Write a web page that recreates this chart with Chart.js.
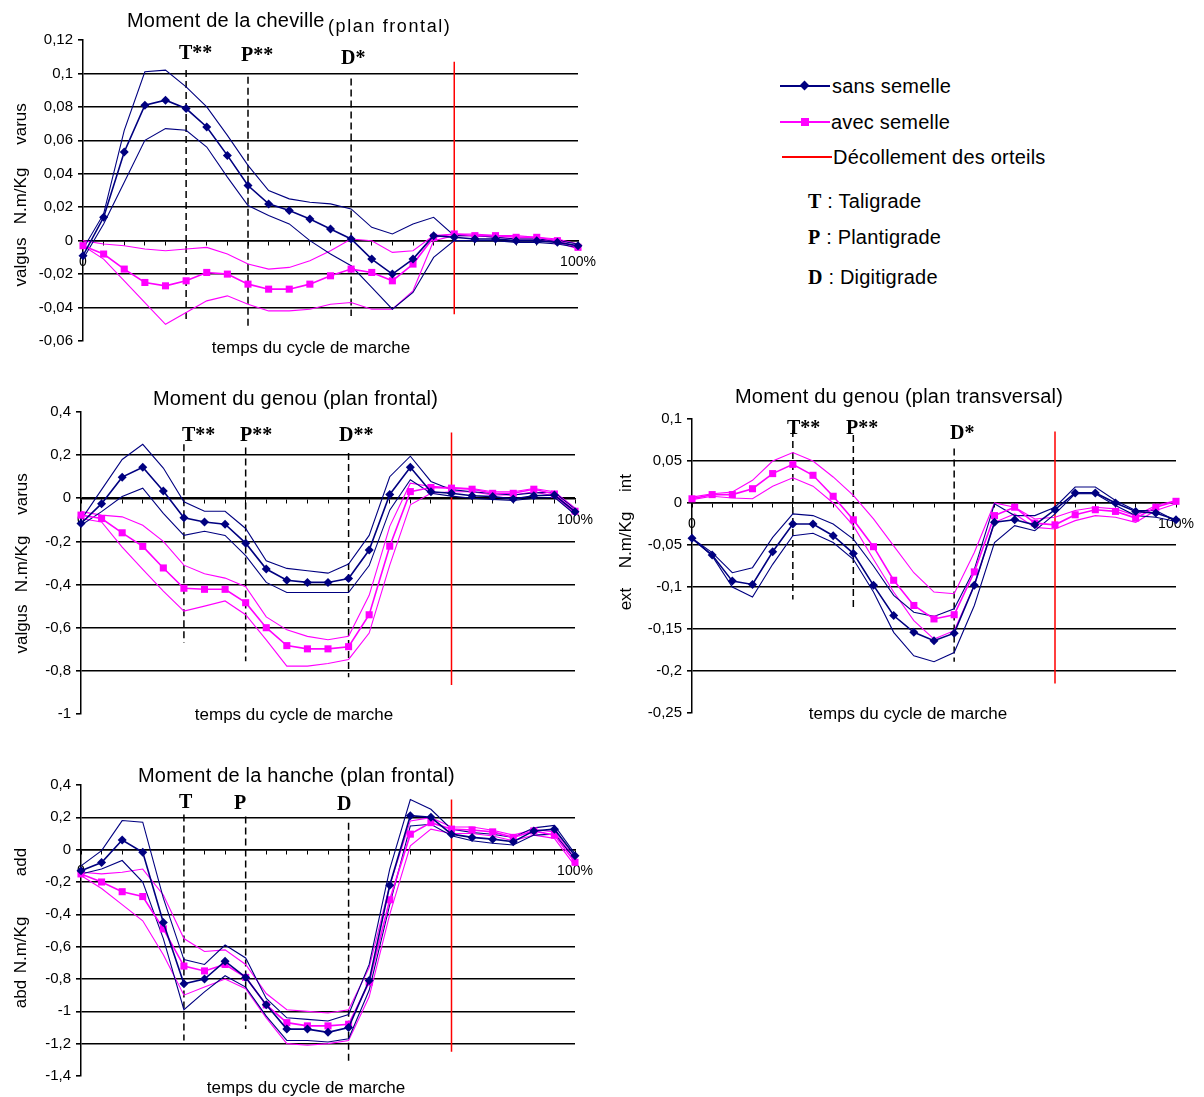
<!DOCTYPE html>
<html><head><meta charset="utf-8">
<script src="https://cdn.jsdelivr.net/npm/chart.js@4.4.1/dist/chart.umd.min.js"></script>
<style>
html,body{margin:0;padding:0;background:#fff;}
body{width:1204px;height:1097px;position:relative;overflow:hidden;font-family:"Liberation Sans",Arial,sans-serif;color:#000;}
canvas{position:absolute;}
.t{position:absolute;white-space:nowrap;line-height:1;transform:translateY(-50%);}
.c{transform:translate(-50%,-50%);}
.r{transform:translate(-50%,-50%) rotate(-90deg);}
.ev{font-family:"Liberation Serif","Times New Roman",serif;font-weight:bold;font-size:20px;}
.ttl{font-size:20px;letter-spacing:0.2px;}
.xt{font-size:17px;}
.yt{font-size:17px;}
.lg{font-size:20px;letter-spacing:0.2px;}
</style></head>
<body>
<canvas id="c1"></canvas>
<canvas id="c2"></canvas>
<canvas id="c3"></canvas>
<canvas id="c4"></canvas>

<!-- Panel 1 texts -->
<div class="t ttl" style="left:127px;top:20px;">Moment de la cheville</div>
<div class="t" style="left:328px;top:26px;font-size:18px;letter-spacing:1.6px;">(plan frontal)</div>
<div class="t ev" style="left:179px;top:52px;">T**</div>
<div class="t ev" style="left:241px;top:54px;">P**</div>
<div class="t ev" style="left:341px;top:57px;">D*</div>
<div class="t c xt" style="left:311px;top:347px;">temps du cycle de marche</div>
<div class="t r yt" style="left:20px;top:124px;">varus</div>
<div class="t r yt" style="left:20px;top:196px;">N.m/Kg</div>
<div class="t r yt" style="left:20px;top:262px;">valgus</div>

<!-- Panel 2 texts -->
<div class="t ttl" style="left:153px;top:398px;">Moment du genou (plan frontal)</div>
<div class="t ev" style="left:182px;top:434px;">T**</div>
<div class="t ev" style="left:240px;top:434px;">P**</div>
<div class="t ev" style="left:339px;top:434px;">D**</div>
<div class="t c xt" style="left:294px;top:714px;">temps du cycle de marche</div>
<div class="t r yt" style="left:21px;top:494px;">varus</div>
<div class="t r yt" style="left:21px;top:564px;">N.m/Kg</div>
<div class="t r yt" style="left:21px;top:629px;">valgus</div>

<!-- Panel 3 texts -->
<div class="t ttl" style="left:735px;top:396px;">Moment du genou (plan transversal)</div>
<div class="t ev" style="left:787px;top:427px;">T**</div>
<div class="t ev" style="left:846px;top:427px;">P**</div>
<div class="t ev" style="left:950px;top:432px;">D*</div>
<div class="t c xt" style="left:908px;top:713px;">temps du cycle de marche</div>
<div class="t r yt" style="left:625px;top:483px;">int</div>
<div class="t r yt" style="left:625px;top:540px;">N.m/Kg</div>
<div class="t r yt" style="left:625px;top:599px;">ext</div>

<!-- Panel 4 texts -->
<div class="t ttl" style="left:138px;top:775px;">Moment de la hanche (plan frontal)</div>
<div class="t ev" style="left:179px;top:801px;">T</div>
<div class="t ev" style="left:234px;top:802px;">P</div>
<div class="t ev" style="left:337px;top:803px;">D</div>
<div class="t c xt" style="left:306px;top:1087px;">temps du cycle de marche</div>
<div class="t r yt" style="left:20px;top:862px;">add</div>
<div class="t r yt" style="left:20px;top:945px;">N.m/Kg</div>
<div class="t r yt" style="left:20px;top:994px;">abd</div>

<!-- Legend -->
<div style="position:absolute;left:780px;top:85px;width:50px;height:2px;background:#000080;"></div>
<div style="position:absolute;left:801px;top:82px;width:7px;height:7px;background:#000080;transform:rotate(45deg);"></div>
<div class="t lg" style="left:832px;top:86px;">sans semelle</div>
<div style="position:absolute;left:780px;top:121px;width:50px;height:2px;background:#ff00ff;"></div>
<div style="position:absolute;left:801px;top:118px;width:8px;height:8px;background:#ff00ff;"></div>
<div class="t lg" style="left:831px;top:122px;">avec semelle</div>
<div style="position:absolute;left:782px;top:156px;width:50px;height:2px;background:#ff0000;"></div>
<div class="t lg" style="left:833px;top:157px;">Décollement des orteils</div>
<div class="t lg" style="left:808px;top:201px;"><span class="ev" style="font-size:20px;">T</span> : Taligrade</div>
<div class="t lg" style="left:808px;top:237px;"><span class="ev" style="font-size:20px;">P</span> : Plantigrade</div>
<div class="t lg" style="left:808px;top:277px;"><span class="ev" style="font-size:20px;">D</span> : Digitigrade</div>

<script>
// ---- categories: points of the gait cycle (0 .. 100%) ----
const cycleSteps = [0,1,2,3,4,5,6,7,8,9,10,11,12,13,14,15,16,17,18,19,20,21,22,23,24];
const cycleLabelFirst = '0';
const cycleLabelLast = '100%';

// ---- phase events (index on the cycle) ----
const phaseIndex = [5, 8, 13];   // T, P, D
const toeOffIndex = 18;          // décollement des orteils

// ---- Panel 1 : Moment de la cheville (plan frontal) ----
const ankleSansMean = [-0.009,0.014,0.053,0.081,0.084,0.079,0.068,0.051,0.033,0.022,0.018,0.013,0.007,0.001,-0.011,-0.02,-0.011,0.003,0.002,0.001,0.001,0.0,0.0,-0.001,-0.003];
const ankleSansUp   = [-0.005,0.016,0.066,0.101,0.102,0.092,0.08,0.063,0.045,0.03,0.025,0.023,0.022,0.019,0.008,0.004,0.01,0.014,0.003,0.003,0.002,0.001,0.001,0.0,-0.002];
const ankleSansLow  = [-0.011,0.01,0.035,0.06,0.067,0.066,0.056,0.038,0.021,0.015,0.01,0.0,-0.008,-0.015,-0.028,-0.041,-0.031,-0.01,0.0,0.0,0.0,-0.001,-0.001,-0.002,-0.004];
const ankleAvecMean = [-0.003,-0.008,-0.017,-0.025,-0.027,-0.024,-0.019,-0.02,-0.026,-0.029,-0.029,-0.026,-0.021,-0.017,-0.019,-0.024,-0.014,0.002,0.004,0.003,0.003,0.002,0.002,0.0,-0.004];
const ankleAvecUp   = [0.0,-0.002,-0.003,-0.005,-0.006,-0.005,-0.004,-0.008,-0.014,-0.017,-0.016,-0.012,-0.006,0.001,0.0,-0.007,-0.006,0.003,0.004,0.004,0.003,0.003,0.002,0.001,-0.002];
const ankleAvecLow  = [-0.003,-0.011,-0.024,-0.037,-0.05,-0.043,-0.036,-0.033,-0.038,-0.042,-0.042,-0.041,-0.038,-0.037,-0.041,-0.041,-0.03,0.0,0.003,0.003,0.002,0.001,0.001,-0.001,-0.005];
const ankleEventTop = [0.102, 0.098, 0.097];
const ankleEventBottom = [-0.049, -0.051, -0.045];
const ankleToeOff = [0.107, -0.044];
const ankleAxis = [-0.06, 0.12, 0.02];

// ---- Panel 2 : Moment du genou (plan frontal) ----
const kneeFSansMean = [-0.117,-0.025,0.098,0.144,0.034,-0.09,-0.11,-0.12,-0.208,-0.328,-0.38,-0.39,-0.39,-0.372,-0.24,0.018,0.144,0.03,0.023,0.012,0.008,-0.003,0.012,0.015,-0.062];
const kneeFSansUp   = [-0.1,0.04,0.18,0.25,0.14,-0.016,-0.06,-0.06,-0.14,-0.29,-0.325,-0.336,-0.347,-0.305,-0.172,0.1,0.195,0.078,0.04,0.03,0.022,0.015,0.025,0.028,-0.05];
const kneeFSansLow  = [-0.125,-0.062,0.008,0.047,-0.07,-0.172,-0.153,-0.172,-0.266,-0.39,-0.437,-0.437,-0.437,-0.437,-0.312,-0.055,0.086,0.023,0.01,0.0,-0.005,-0.01,0.0,0.005,-0.075];
const kneeFAvecMean = [-0.078,-0.094,-0.16,-0.223,-0.323,-0.417,-0.422,-0.422,-0.484,-0.6,-0.683,-0.698,-0.698,-0.688,-0.54,-0.222,0.031,0.05,0.047,0.042,0.023,0.023,0.042,0.02,-0.06];
const kneeFAvecUp   = [-0.062,-0.078,-0.086,-0.125,-0.2,-0.31,-0.35,-0.37,-0.41,-0.55,-0.61,-0.64,-0.656,-0.64,-0.45,-0.13,0.07,0.055,0.05,0.045,0.03,0.03,0.045,0.03,-0.045];
const kneeFAvecLow  = [-0.094,-0.11,-0.226,-0.33,-0.43,-0.523,-0.5,-0.476,-0.54,-0.656,-0.778,-0.778,-0.766,-0.747,-0.625,-0.31,-0.03,0.023,0.03,0.03,0.015,0.015,0.03,0.01,-0.07];
const kneeFEventTop = [0.25, 0.235, 0.21];
const kneeFEventBottom = [-0.67, -0.755, -0.83];
const kneeFToeOff = [0.305, -0.865];
const kneeFAxis = [-1, 0.4, 0.2];

// ---- Panel 3 : Moment du genou (plan transversal) ----
const kneeTSansMean = [-0.042,-0.062,-0.093,-0.097,-0.058,-0.025,-0.025,-0.039,-0.06,-0.098,-0.134,-0.154,-0.164,-0.155,-0.098,-0.023,-0.02,-0.026,-0.008,0.012,0.012,0.0,-0.01,-0.012,-0.02];
const kneeTSansUp   = [-0.042,-0.059,-0.083,-0.077,-0.041,-0.013,-0.015,-0.025,-0.043,-0.075,-0.11,-0.13,-0.135,-0.126,-0.079,-0.001,-0.015,-0.015,-0.005,0.019,0.019,0.003,-0.009,-0.009,-0.021];
const kneeTSansLow  = [-0.042,-0.063,-0.1,-0.112,-0.073,-0.039,-0.036,-0.047,-0.067,-0.106,-0.154,-0.182,-0.189,-0.178,-0.122,-0.047,-0.027,-0.033,-0.013,0.011,0.011,-0.003,-0.015,-0.017,-0.022];
const kneeTAvecMean = [0.005,0.01,0.01,0.017,0.035,0.046,0.033,0.008,-0.02,-0.052,-0.092,-0.122,-0.138,-0.133,-0.082,-0.015,-0.005,-0.024,-0.026,-0.014,-0.008,-0.01,-0.018,-0.005,0.002];
const kneeTAvecUp   = [0.007,0.011,0.013,0.027,0.05,0.06,0.05,0.031,0.009,-0.019,-0.051,-0.083,-0.106,-0.108,-0.059,0.0,-0.005,-0.019,-0.017,-0.009,-0.005,-0.007,-0.015,-0.003,0.003];
const kneeTAvecLow  = [0.004,0.008,0.006,0.005,0.02,0.03,0.02,0.0,-0.027,-0.067,-0.106,-0.14,-0.162,-0.152,-0.098,-0.023,-0.013,-0.029,-0.031,-0.021,-0.015,-0.017,-0.023,-0.009,-0.001];
const kneeTEventTop = [0.087, 0.081, 0.065];
const kneeTEventBottom = [-0.115, -0.127, -0.189];
const kneeTToeOff = [0.085, -0.215];
const kneeTAxis = [-0.25, 0.1, 0.05];

// ---- Panel 4 : Moment de la hanche (plan frontal) ----
const hipSansMean = [-0.13,-0.08,0.06,-0.016,-0.45,-0.83,-0.8,-0.69,-0.79,-0.96,-1.11,-1.11,-1.13,-1.1,-0.81,-0.22,0.21,0.2,0.096,0.076,0.065,0.049,0.116,0.127,-0.037];
const hipSansUp   = [-0.1,-0.006,0.18,0.17,-0.3,-0.68,-0.71,-0.59,-0.67,-0.92,-1.04,-1.05,-1.06,-1.02,-0.71,-0.12,0.31,0.25,0.127,0.106,0.095,0.075,0.135,0.15,-0.025];
const hipSansLow  = [-0.15,-0.12,-0.067,-0.2,-0.55,-0.99,-0.88,-0.78,-0.85,-1.03,-1.18,-1.18,-1.19,-1.17,-0.87,-0.34,0.147,0.157,0.086,0.055,0.04,0.029,0.09,0.096,-0.057];
const hipAvecMean = [-0.15,-0.2,-0.26,-0.29,-0.49,-0.72,-0.75,-0.71,-0.79,-0.96,-1.07,-1.09,-1.09,-1.08,-0.82,-0.31,0.096,0.167,0.127,0.122,0.11,0.076,0.116,0.09,-0.078];
const hipAvecUp   = [-0.14,-0.15,-0.14,-0.12,-0.28,-0.55,-0.63,-0.62,-0.71,-0.89,-0.99,-1.0,-1.01,-0.99,-0.73,-0.22,0.178,0.198,0.14,0.14,0.12,0.09,0.125,0.11,-0.055];
const hipAvecLow  = [-0.16,-0.24,-0.34,-0.44,-0.65,-0.9,-0.85,-0.8,-0.86,-1.04,-1.2,-1.21,-1.2,-1.18,-0.91,-0.4,0.024,0.127,0.1,0.1,0.085,0.055,0.09,0.07,-0.1];
const hipEventTop = [0.217, 0.205, 0.167];
const hipEventBottom = [-1.18, -1.11, -1.32];
const hipToeOff = [0.31, -1.25];
const hipAxis = [-1.4, 0.4, 0.2];

// ---- styling ----
const NAVY = '#000080';
const MAGENTA = '#ff00ff';
const AXW = 60, PADL = 10, PADT = 22, PADR = 40, PADB = 40;

Chart.defaults.font.family = "'Liberation Sans', Arial, sans-serif";
Chart.defaults.color = '#000';

function pts(arr) { return arr.map((v, i) => ({ x: cycleSteps[i], y: v })); }
function fmt(v) { const r = Math.round(v * 1000) / 1000; return String(r === 0 ? 0 : r).replace('.', ','); }

function makePanel(id, box, axis, s, evTop, evBottom, toeOff) {
  const [yMin, yMax, yStep] = axis;
  const cv = document.getElementById(id);
  const w = box.right - box.left + AXW + PADL + PADR;
  const h = box.bottom - box.top + PADT + PADB;
  cv.width = w; cv.height = h;
  cv.style.left = (box.left - AXW - PADL) + 'px';
  cv.style.top = (box.top - PADT) + 'px';
  cv.style.width = w + 'px'; cv.style.height = h + 'px';

  const meanStyle = (data, color, ps, r) => ({ data: pts(data), borderColor: color, backgroundColor: color, borderWidth: 1.6,
    pointStyle: ps, pointRadius: r, pointBorderWidth: 0, pointBackgroundColor: color, tension: 0, clip: false });
  const sdStyle = (data, color) => ({ data: pts(data), borderColor: color, borderWidth: 1.1, pointRadius: 0, tension: 0, clip: false });

  const datasets = [
    meanStyle(s.sansMean, NAVY, 'rectRot', 4.5),
    meanStyle(s.avecMean, MAGENTA, 'rect', 5),
    sdStyle(s.sansUp, NAVY), sdStyle(s.sansLow, NAVY),
    sdStyle(s.avecUp, MAGENTA), sdStyle(s.avecLow, MAGENTA),
  ];
  phaseIndex.forEach((ix, k) => {
    datasets.push({ data: [{ x: cycleSteps[ix], y: evTop[k] }, { x: cycleSteps[ix], y: evBottom[k] }],
      borderColor: '#000', borderWidth: 1.5, borderDash: [7, 4], pointRadius: 0, clip: false });
  });
  datasets.push({ data: [{ x: cycleSteps[toeOffIndex], y: toeOff[0] }, { x: cycleSteps[toeOffIndex], y: toeOff[1] }],
    borderColor: '#ff0000', borderWidth: 1.5, pointRadius: 0, clip: false });

  const last = cycleSteps[cycleSteps.length - 1];
  return new Chart(cv, {
    type: 'line',
    data: { datasets },
    options: {
      responsive: false, animation: false, events: [],
      layout: { autoPadding: false, padding: { left: PADL, top: PADT, right: PADR, bottom: PADB } },
      plugins: { legend: { display: false }, tooltip: { enabled: false }, title: { display: false } },
      scales: {
        x: {
          type: 'linear', min: cycleSteps[0], max: last, position: { y: 0 },
          afterFit: sc => { sc.height = 0; },
          ticks: { stepSize: 1, autoSkip: false, maxRotation: 0, padding: 9, font: { size: 14 }, color: '#000',
            callback: v => v === cycleSteps[0] ? cycleLabelFirst : (v === last ? cycleLabelLast : '') },
          grid: { drawOnChartArea: false, drawTicks: true, tickLength: 4, color: '#000', lineWidth: 1 },
          border: { display: true, color: '#000', width: 1.5 }
        },
        y: {
          type: 'linear', min: yMin, max: yMax,
          afterFit: sc => { sc.width = AXW; },
          ticks: { stepSize: yStep, padding: 5, font: { size: 15 }, color: '#000', callback: v => fmt(v) },
          grid: {
            drawTicks: true, tickLength: 5, tickColor: '#000', lineWidth: 1.6,
            color: c => (c.tick && (Math.abs(c.tick.value - yMin) < 1e-9 || Math.abs(c.tick.value - yMax) < 1e-9)) ? 'rgba(0,0,0,0)' : '#000'
          },
          border: { display: true, color: '#000', width: 1.5 }
        }
      }
    }
  });
}

makePanel('c1', { left: 83, right: 578, top: 40, bottom: 341 }, ankleAxis,
  { sansMean: ankleSansMean, sansUp: ankleSansUp, sansLow: ankleSansLow, avecMean: ankleAvecMean, avecUp: ankleAvecUp, avecLow: ankleAvecLow },
  ankleEventTop, ankleEventBottom, ankleToeOff);
makePanel('c2', { left: 81, right: 575, top: 412, bottom: 714 }, kneeFAxis,
  { sansMean: kneeFSansMean, sansUp: kneeFSansUp, sansLow: kneeFSansLow, avecMean: kneeFAvecMean, avecUp: kneeFAvecUp, avecLow: kneeFAvecLow },
  kneeFEventTop, kneeFEventBottom, kneeFToeOff);
makePanel('c3', { left: 692, right: 1176, top: 419, bottom: 713 }, kneeTAxis,
  { sansMean: kneeTSansMean, sansUp: kneeTSansUp, sansLow: kneeTSansLow, avecMean: kneeTAvecMean, avecUp: kneeTAvecUp, avecLow: kneeTAvecLow },
  kneeTEventTop, kneeTEventBottom, kneeTToeOff);
makePanel('c4', { left: 81, right: 575, top: 785, bottom: 1076 }, hipAxis,
  { sansMean: hipSansMean, sansUp: hipSansUp, sansLow: hipSansLow, avecMean: hipAvecMean, avecUp: hipAvecUp, avecLow: hipAvecLow },
  hipEventTop, hipEventBottom, hipToeOff);
</script>
</body></html>
